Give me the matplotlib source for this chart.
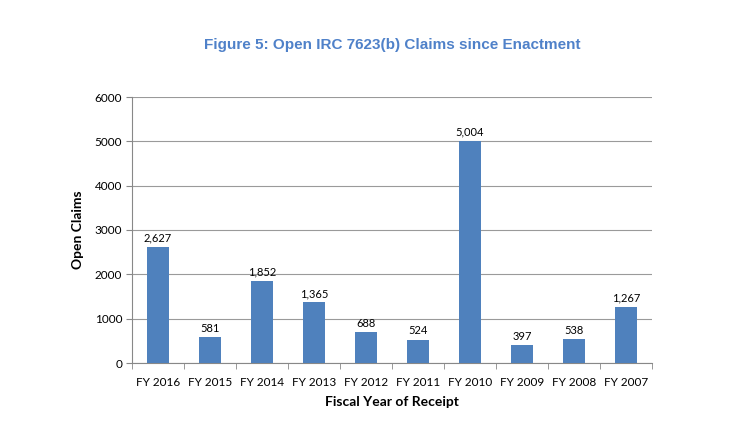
import matplotlib
matplotlib.use("Agg")
import matplotlib.pyplot as plt
import numpy as np

categories = ["FY 2016", "FY 2015", "FY 2014", "FY 2013", "FY 2012",
              "FY 2011", "FY 2010", "FY 2009", "FY 2008", "FY 2007"]
values = [2627, 581, 1852, 1365, 688, 524, 5004, 397, 538, 1267]
yticks = [0, 1000, 2000, 3000, 4000, 5000, 6000]

fig = plt.figure(figsize=(7.44, 4.38), dpi=100)
ax = fig.add_axes([132/744, 1-363/438, 520/744, 266/438])

x = np.arange(len(categories))
ax.bar(x, values, width=0.42, color="#4F81BD", zorder=3)
for xi, v in zip(x, values):
    ax.text(xi, v + 80, f"{v:,}", ha="center", va="bottom", fontsize=8,
            family="Lato", color="black")

ax.set_xlim(-0.5, len(categories) - 0.5)
ax.set_ylim(0, 6000)
ax.set_yticks(yticks)
ax.set_yticklabels([str(t) for t in yticks], family="Lato", fontsize=8.5)
ax.yaxis.grid(True, color="#9a9a9a", linewidth=0.8, zorder=0)
ax.set_axisbelow(True)

ax.set_xticks(x)
ax.set_xticklabels(categories, family="Lato", fontsize=8.5)
ax.tick_params(axis="x", length=0, pad=10)
ax.set_xticks(np.arange(-0.5, len(categories), 1.0), minor=True)
ax.tick_params(axis="x", which="minor", length=4, color="#888888", direction="out")
ax.tick_params(axis="y", length=4, color="#888888", direction="out", pad=3)

for s in ["top", "right"]:
    ax.spines[s].set_visible(False)
for s in ["left", "bottom"]:
    ax.spines[s].set_color("#888888")
    ax.spines[s].set_linewidth(0.8)

ax.set_ylabel("Open Claims", family="Lato", fontweight="bold", fontsize=10, labelpad=8)
ax.set_xlabel("Fiscal Year of Receipt", family="Lato", fontweight="bold", fontsize=10, labelpad=6)

fig.text(392/744, 1-45/438, "Figure 5: Open IRC 7623(b) Claims since Enactment",
         ha="center", va="center", fontsize=11, fontweight="bold",
         family="Liberation Sans", color="#4F81C9")

fig.savefig("out.png", dpi=100)
